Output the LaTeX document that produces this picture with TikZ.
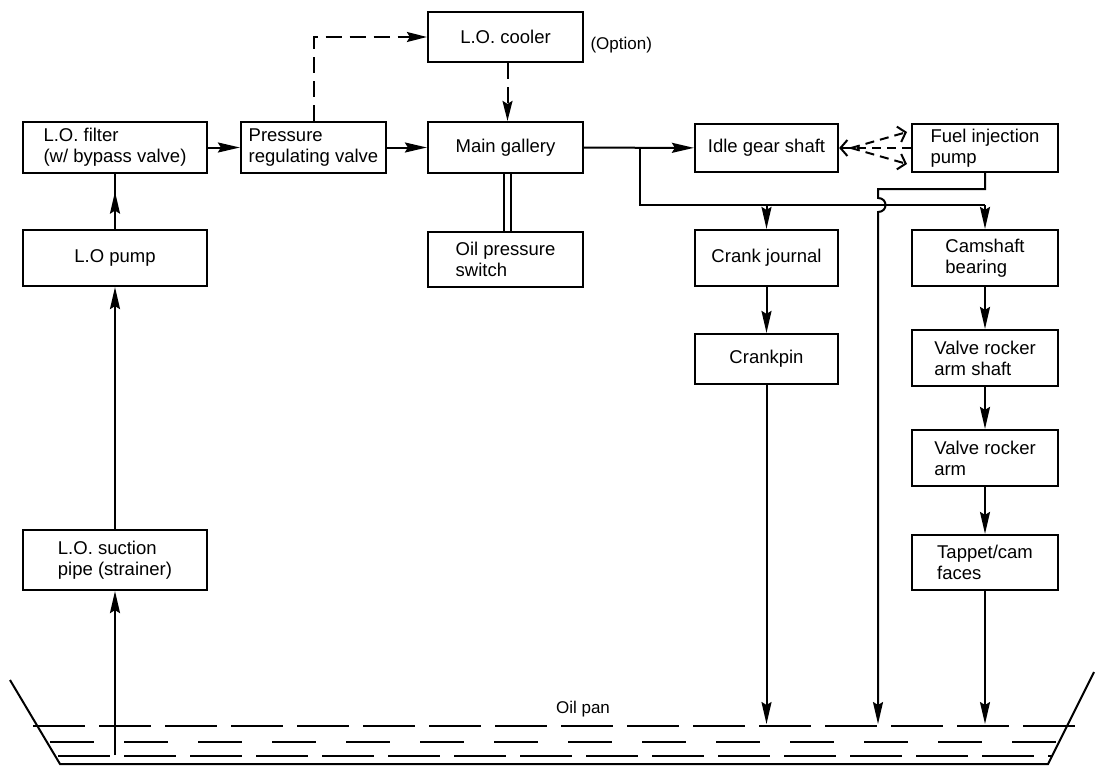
\documentclass[tikz,border=0pt]{standalone}
\usepackage{fontspec}
\setmainfont{Liberation Sans}
\usetikzlibrary{arrows.meta}
\usetikzlibrary{calc}
\usetikzlibrary{decorations.markings}

\begin{document}
\begin{tikzpicture}[
          x=1pt, y=-1pt,
          box/.style={
            draw,
            line width=2.2pt,
            inner sep=0pt,
            align=left,
            font=\fontsize{18.5}{21}\selectfont},
          pipe/.style={line width=2pt},
          flow/.style={pipe, -{Stealth[length=22pt,width=10pt,inset=3pt]}},
          midflow/.style={pipe, postaction={decorate},
            decoration={markings, mark=at position #1 with
              {\arrow{Stealth[length=22pt,width=10pt,inset=3pt]}}}},
          hint/.style={pipe, dash pattern=on 16pt off 8pt,
            -{Stealth[length=20pt,width=10pt,inset=3pt]}},
          gear/.style={pipe, dash pattern=on 9pt off 6pt,
            -{Straight Barb[length=7pt,width=16pt]}},
          level/.style={line width=1.8pt, dash pattern=on 52pt off 14pt},
        ]
          \useasboundingbox (0,0) rectangle (1097,771);
          % boxes
          \node[box, minimum width=155pt, minimum height=50pt] (cooler) at (505.5,37) {L.O. cooler};
          \node[anchor=west, font=\fontsize{17}{20}\selectfont] (option) at (587,45) {(Option)};
          \node[box, minimum width=184pt, minimum height=51pt] (filter) at (115,147.5) {L.O. filter\\(w/ bypass valve)};
          \node[box, minimum width=145pt, minimum height=51pt] (prv) at (313.5,147.5) {Pressure\\regulating valve};
          \node[box, minimum width=155pt, minimum height=51pt] (main) at (505.5,147.5) {Main gallery};
          \node[box, minimum width=143pt, minimum height=48pt] (idle) at (766.5,148) {Idle gear shaft};
          \node[box, minimum width=146pt, minimum height=48pt] (fuel) at (985,148) {Fuel injection\\pump};
          \node[box, minimum width=184pt, minimum height=56pt] (pump) at (115,258) {L.O pump};
          \node[box, minimum width=155pt, minimum height=55pt] (switch) at (505.5,259.5) {Oil pressure\\switch};
          \node[box, minimum width=143pt, minimum height=56pt] (journal) at (766.5,258) {Crank journal};
          \node[box, minimum width=146pt, minimum height=56pt] (camshaft) at (985,258) {Camshaft\\bearing};
          \node[box, minimum width=143pt, minimum height=50pt] (crankpin) at (766.5,359) {Crankpin};
          \node[box, minimum width=146pt, minimum height=56pt] (rockshaft) at (985,358) {Valve rocker\\arm shaft};
          \node[box, minimum width=146pt, minimum height=56pt] (rocker) at (985,458) {Valve rocker\\arm};
          \node[box, minimum width=146pt, minimum height=55pt] (tappet) at (985,562.5) {Tappet/cam\\faces};
          \node[box, minimum width=184pt, minimum height=60pt] (suction) at (115,560) {L.O. suction\\pipe (strainer)};

          % oil pan
          \draw[pipe] (10,680) -- (60,764) -- (1048,764) -- (1094,672);
          \node[font=\fontsize{17}{20}\selectfont] (pan) at (583,709) {Oil pan};
          \draw[level] (33,726) -- (1080,726);
          \draw[level, dash pattern=on 44pt off 30pt] (50,742) -- (1062,742);
          \draw[level] (58,756) -- (1052,756);
          \coordinate (feed) at (115,755);
          \coordinate (drainpin) at (766.5,724);
          \coordinate (drainfuel) at (878,724);
          \coordinate (draincam) at (985,724);

          % suction side
          \draw[flow] (feed) -- (suction);
          \draw[flow] (suction) -- (pump);
          \draw[midflow=0.68] (pump) -- (filter);
          \draw[flow] (filter) -- (prv);
          \draw[flow] (prv) -- (main);
          \draw[hint] (prv.north) |- (cooler.west);
          \draw[hint] ([xshift=2pt]cooler.south) -- ([xshift=2pt]main.north);
          \draw[pipe] ([xshift=-2pt]main.south) -- ([xshift=-2pt]switch.north);
          \draw[pipe] ([xshift=5pt]main.south) -- ([xshift=5pt]switch.north);

          % gallery branches
          \coordinate (tee) at (640,148);
          \coordinate (teelow) at (640,205);
          \draw[flow] (main) -- (idle);
          \draw[pipe] (tee) -- (teelow) -- (camshaft.north |- teelow);
          \draw[flow] (journal.north |- teelow) -- (journal);
          \draw[flow] (camshaft.north |- teelow) -- (camshaft);
          \draw[flow] (fuel.south) |- (878,189) -- (878,198)
            .. controls (888,198) and (888,212) .. (878,212) -- (drainfuel);

          % idle gear and injection pump
          \coordinate (fan) at ($(idle.east)+(12,0)$);
          \draw[gear] (fuel.west) -- (idle.east);
          \draw[gear] (fan) -- (907,132);
          \draw[gear] (fan) -- (907,164);

          % crank and valve train
          \draw[flow] (journal) -- (crankpin);
          \draw[flow] (crankpin) -- (drainpin);
          \draw[flow] (camshaft) -- (rockshaft);
          \draw[flow] (rockshaft) -- (rocker);
          \draw[flow] (rocker) -- (tappet);
          \draw[flow] (tappet) -- (draincam);
        \end{tikzpicture}
\end{document}
